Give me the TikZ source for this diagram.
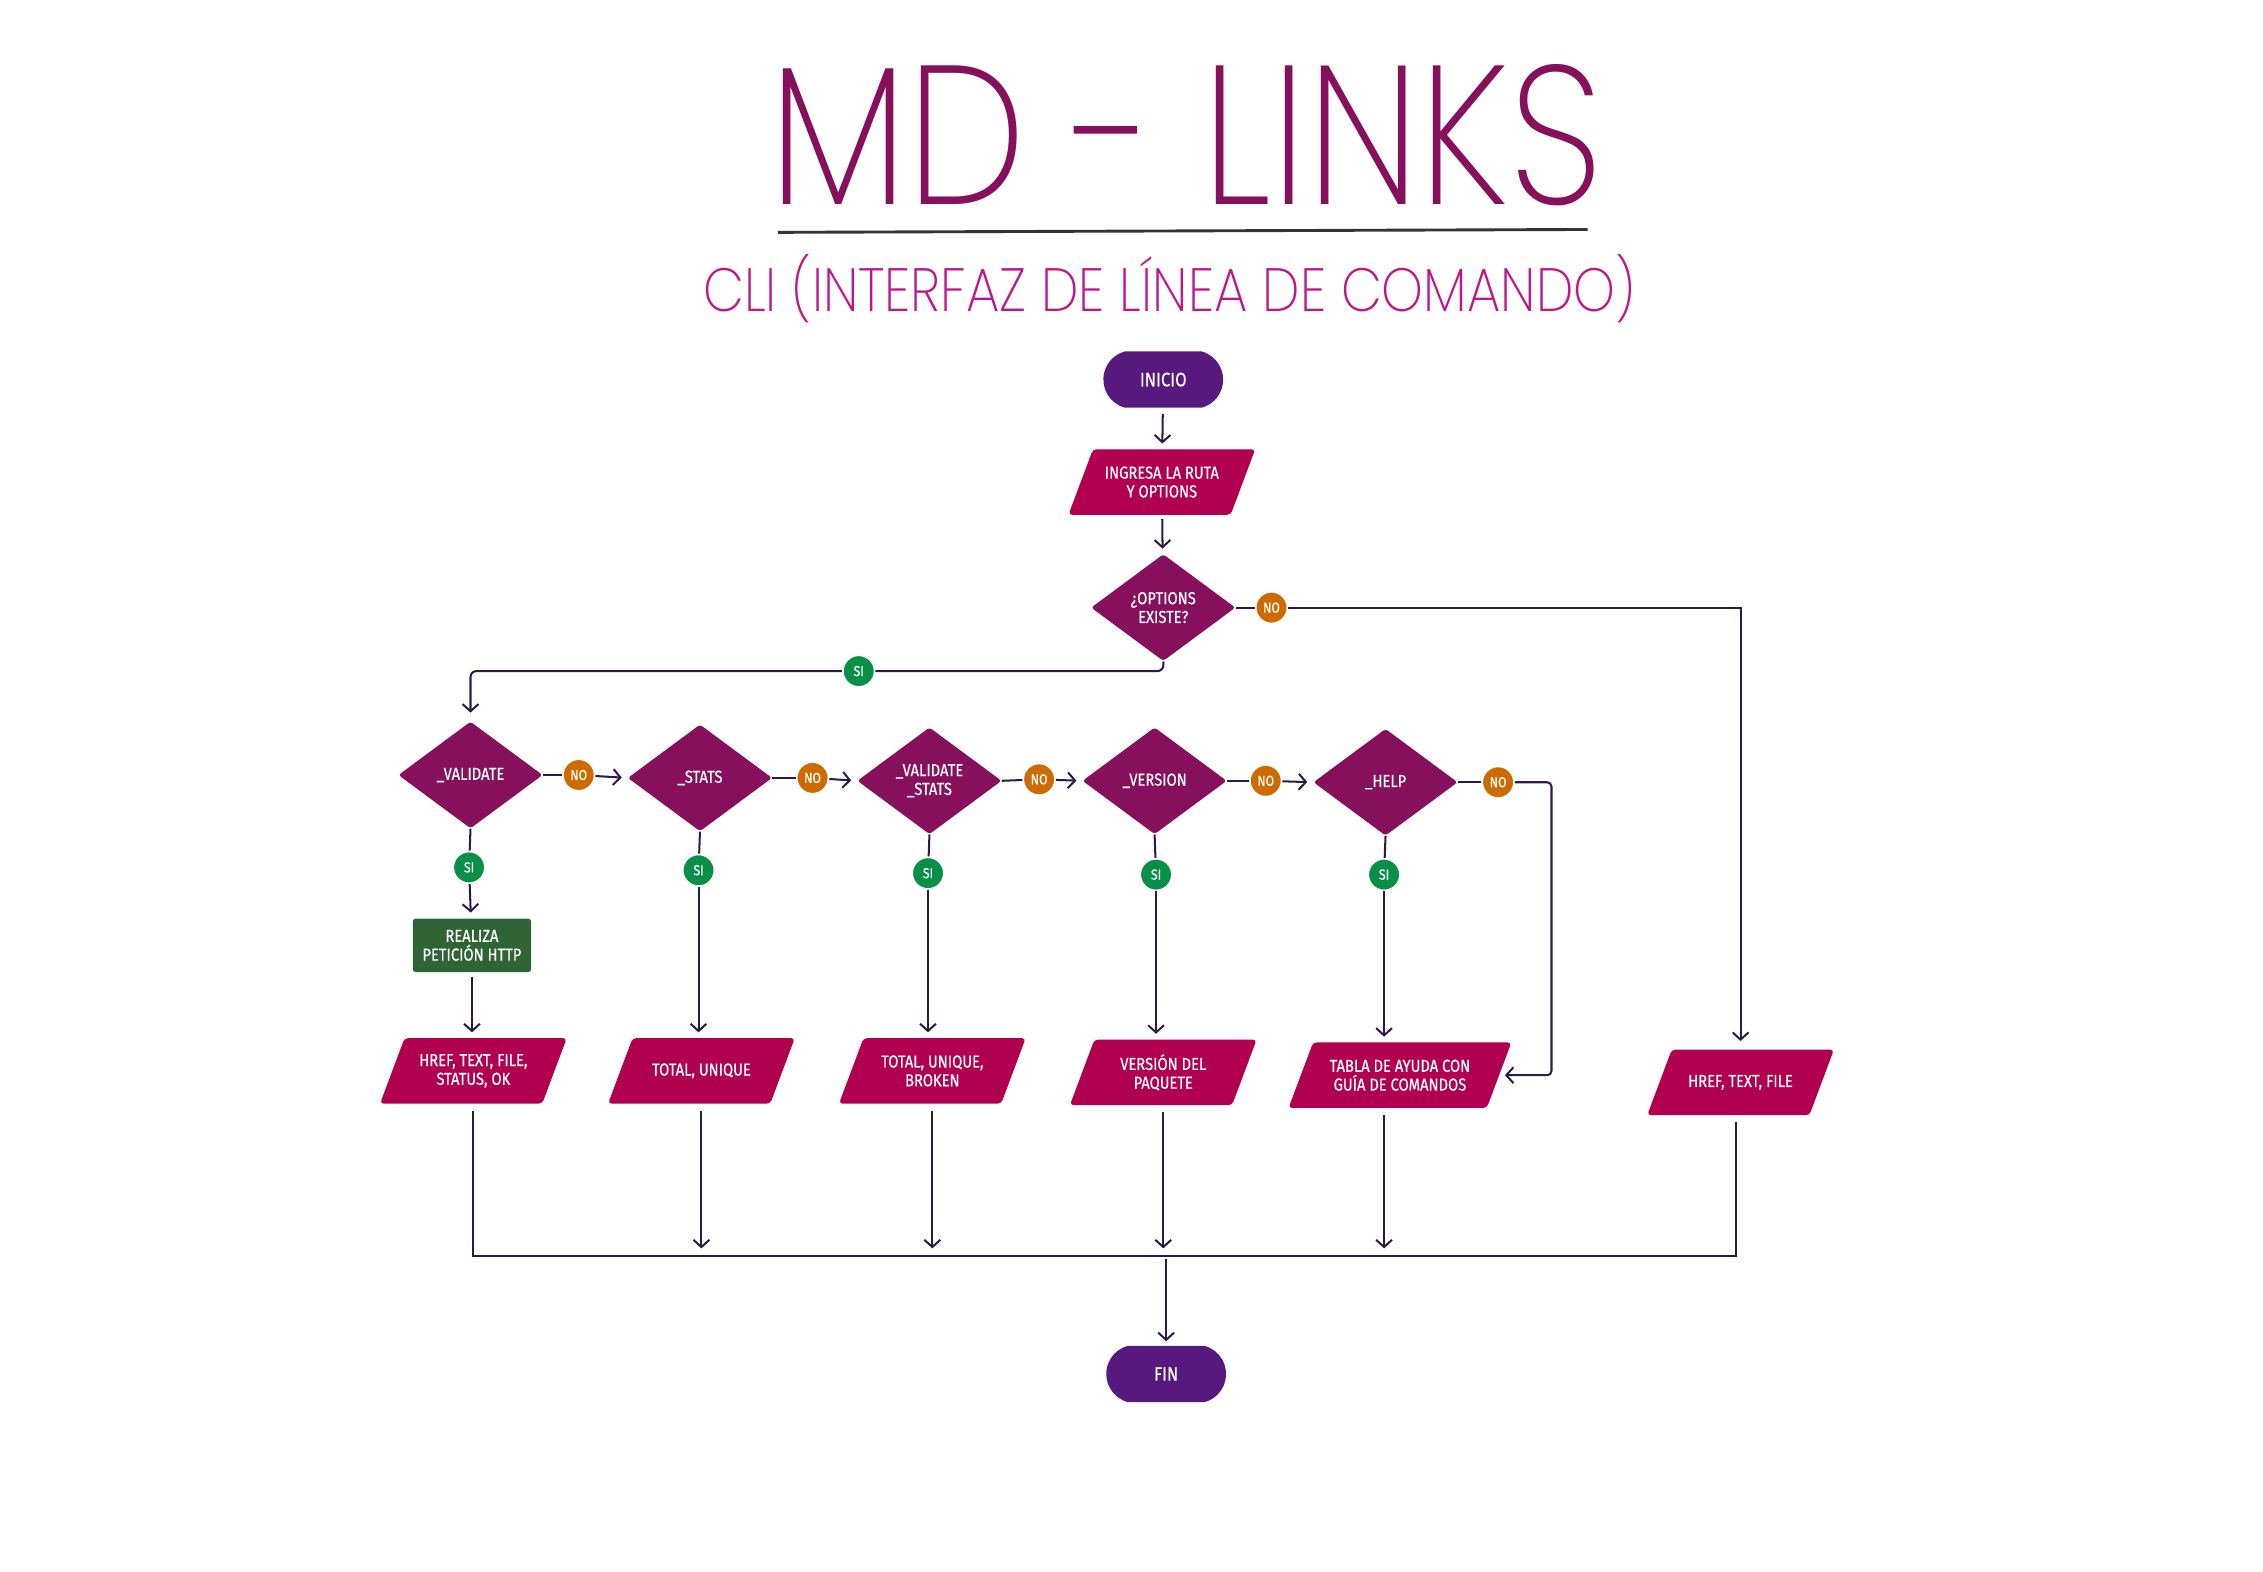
\documentclass[tikz,border=0pt]{standalone}
\usepackage{fontspec}
\usepackage{graphicx}
\usetikzlibrary{shapes.geometric,shapes.misc,arrows.meta,backgrounds}
\newfontfamily\lblfont{Fira Sans}[FakeStretch=0.85,FakeBold=0.5]
\IfFontExistsTF{Poppins ExtraLight}{\newfontfamily\titlefont{Poppins ExtraLight}}{%
  \IfFontExistsTF{Poppins Thin}{\newfontfamily\titlefont{Poppins Thin}}{%
    \IfFontExistsTF{Poppins Light}{\newfontfamily\titlefont{Poppins Light}}{\newfontfamily\titlefont{Poppins}}}}
\definecolor{cpill}{HTML}{58197E}
\definecolor{cpar}{HTML}{B1004F}
\definecolor{cdia}{HTML}{86105B}
\definecolor{cno}{HTML}{CD6A00}
\definecolor{csi}{HTML}{0A8F48}
\definecolor{cbox}{HTML}{2F6436}
\definecolor{cline}{HTML}{2C1B49}
\definecolor{ctitle}{HTML}{87105C}
\definecolor{csub}{HTML}{C0148A}
\newcommand\parafill[1]{\fill[cpar, rounded corners=2.5pt]
  ([xshift=-8.5pt]#1.south west) -- ([xshift=-8.5pt]#1.south east) --
  ([xshift=8.5pt]#1.north east) -- ([xshift=8.5pt]#1.north west) -- cycle;}
\begin{document}
\begin{tikzpicture}[x=1pt,y=-1pt,
  lbl/.style={text=white, align=center, inner sep=0pt, font={\lblfont\fontsize{12}{13}\selectfont}},
  pill/.style={lbl, rounded rectangle, rounded rectangle arc length=150, fill=cpill, minimum width=83pt, minimum height=39pt, font={\lblfont\fontsize{13.5}{14}\selectfont}},
  para/.style={lbl, rectangle, minimum width=112pt, minimum height=45pt},
  dia/.style={lbl, diamond, fill=cdia, minimum width=100pt, minimum height=74pt, rounded corners=2pt},
  circ/.style={circle, minimum size=22pt, inner sep=0pt, draw=white, line width=1.2pt, text=white, font={\lblfont\fontsize{10}{10}\selectfont}},
  nocirc/.style={circ, fill=cno},
  sicirc/.style={circ, fill=csi},
  gbox/.style={lbl, rectangle, rounded corners=2pt, fill=cbox, minimum width=82pt, minimum height=37pt},
  ln/.style={draw=cline, line width=1.4pt},
  arr/.style={ln, -{Straight Barb[length=5pt,width=11pt]}, shorten >=4pt}
]
\begin{scope}[on background layer]
\fill[white] (0,0) rectangle (1568,1089);
\end{scope}
\useasboundingbox (0,0) rectangle (1568,1089);

% titles
\node[anchor=base west, inner sep=0pt, text=ctitle] (title) at (533,142)
  {\resizebox{577pt}{94pt}{\titlefont\vphantom{M}\smash{MD - LINKS}}};
\coordinate (ulA) at (539,161);
\coordinate (ulB) at (1100,159);
\draw[line width=2pt, black!80] (ulA) -- (ulB);
\node[anchor=base west, inner sep=0pt, text=csub] (subtitle) at (487,216)
  {\resizebox{646pt}{30pt}{\titlefont\vphantom{C}\smash{CLI (INTERFAZ DE LÍNEA DE COMANDO)}}};

% nodes
\node[pill] (inicio) at (806,263) {INICIO};
\node[para] (ingresa) at (805,334) {INGRESA LA RUTA\\Y OPTIONS};
\node[dia] (opt) at (806,421) {¿OPTIONS\\EXISTE?};
\node[nocirc] (noOpt) at (881,421) {NO};
\node[sicirc] (siOpt) at (595,465) {SI};

\node[dia] (d1) at (326,537) {\_VALIDATE};
\node[dia] (d2) at (485,539) {\_STATS};
\node[dia] (d3) at (644,541) {\_VALIDATE\\\_STATS};
\node[dia] (d4) at (800,541) {\_VERSION};
\node[dia] (d5) at (960,542) {\_HELP};

\node[nocirc] (no1) at (401,537) {NO};
\node[nocirc] (no2) at (563,539) {NO};
\node[nocirc] (no3) at (720,540) {NO};
\node[nocirc] (no4) at (877,541) {NO};
\node[nocirc] (no5) at (1038,542) {NO};

\node[sicirc] (si1) at (325,601) {SI};
\node[sicirc] (si2) at (484,603) {SI};
\node[sicirc] (si3) at (643,605) {SI};
\node[sicirc] (si4) at (801,606) {SI};
\node[sicirc] (si5) at (959,606) {SI};

\node[gbox] (http) at (327,655) {REALIZA\\PETICIÓN HTTP};

\node[para] (o1) at (328,742) {HREF, TEXT, FILE,\\STATUS, OK};
\node[para] (o2) at (486,742) {TOTAL, UNIQUE};
\node[para] (o3) at (646,742) {TOTAL, UNIQUE,\\BROKEN};
\node[para] (o4) at (806,743) {VERSIÓN DEL\\PAQUETE};
\node[para, minimum width=137pt] (o5) at (970,745) {TABLA DE AYUDA CON\\GUÍA DE COMANDOS};
\node[para] (o6) at (1206,750) {HREF, TEXT, FILE};

\node[pill] (fin) at (808,952) {FIN};

\begin{scope}[on background layer]
\parafill{ingresa}
\parafill{o1}
\parafill{o2}
\parafill{o3}
\parafill{o4}
\parafill{o5}
\parafill{o6}
\end{scope}

% connectors
\draw[arr, shorten <=4pt] (inicio) -- (ingresa);
\draw[arr, shorten <=3pt] (ingresa) -- (opt);

\draw[ln] (opt.east) -- (noOpt);
\draw[arr, shorten >=6pt] (noOpt) -| (o6.north);

\draw[ln, rounded corners=4pt] (opt.south) |- (siOpt);
\draw[arr, rounded corners=4pt, shorten >=6pt] (siOpt) -| (d1.north);

\draw[ln] (d1.east) -- (no1);
\draw[arr] (no1) -- (d2.west);
\draw[ln] (d2.east) -- (no2);
\draw[arr] (no2) -- (d3.west);
\draw[ln] (d3.east) -- (no3);
\draw[arr] (no3) -- (d4.west);
\draw[ln] (d4.east) -- (no4);
\draw[arr] (no4) -- (d5.west);
\draw[ln] (d5.east) -- (no5);
\coordinate (hx) at (1075,600);
\draw[arr, rounded corners=3pt] (no5) -| (hx |- o5.east) -- (o5.east);

\draw[ln] (d1.south) -- (si1);
\draw[ln] (d2.south) -- (si2);
\draw[ln] (d3.south) -- (si3);
\draw[ln] (d4.south) -- (si4);
\draw[ln] (d5.south) -- (si5);

\draw[arr] (si1) -- (http);
\draw[arr, shorten <=3pt] (http) -- (http |- o1.north);
\draw[arr] (si2) -- (si2 |- o2.north);
\draw[arr] (si3) -- (si3 |- o3.north);
\draw[arr] (si4) -- (si4 |- o4.north);
\draw[arr] (si5) -- (si5 |- o5.north);

\coordinate (busL) at (328,870);
\coordinate (busR) at (1203,870);
\draw[ln, shorten <=5pt, shorten >=5pt] (o1.south) -- (o1.south |- busL) -- (busR) -- (busR |- o6.south);
\draw[arr, shorten <=5pt, shorten >=5pt] (o2.south) -- (o2.south |- busL);
\draw[arr, shorten <=5pt, shorten >=5pt] (o3.south) -- (o3.south |- busL);
\draw[arr, shorten <=5pt, shorten >=5pt] (o4.south) -- (o4.south |- busL);
\draw[arr, shorten <=5pt, shorten >=5pt] (si5 |- o5.south) -- (si5 |- busL);
\draw[arr, shorten <=2pt, shorten >=3pt] (fin.north |- busL) -- (fin.north);
\end{tikzpicture}
\end{document}
